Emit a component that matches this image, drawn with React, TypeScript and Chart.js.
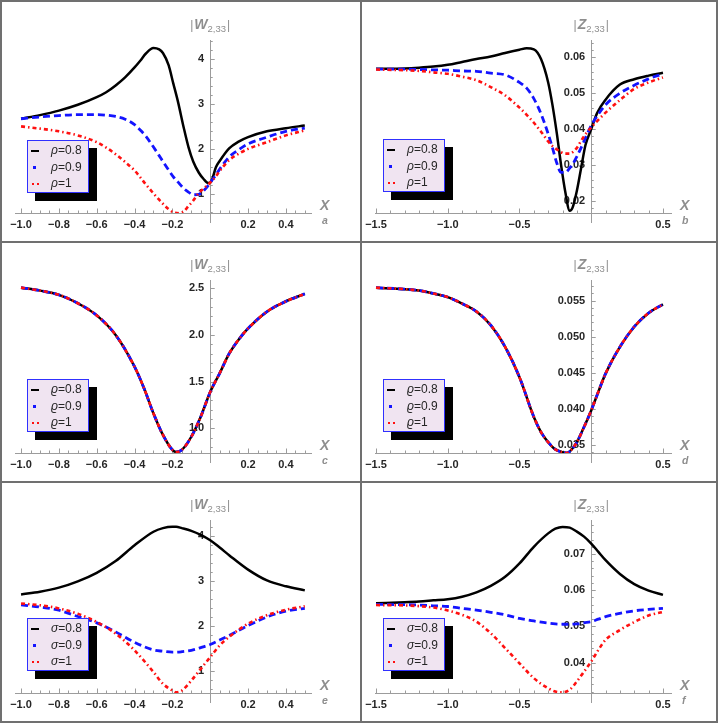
import { useEffect, useRef } from "react"
import { Chart, registerables } from "chart.js"

Chart.register(...registerables)

const FONT = "'Liberation Sans', Arial, sans-serif"

// ---- panel a: |W2,33| for rho = 0.8, 0.9, 1
const aX = [-1.0, -0.9, -0.8, -0.7, -0.6, -0.55, -0.5, -0.45, -0.4, -0.37, -0.34, -0.3, -0.27, -0.25, -0.22, -0.195, -0.17, -0.14, -0.115, -0.09, -0.06, -0.035, -0.01, 0, 0.01, 0.03, 0.05, 0.1, 0.15, 0.2, 0.3, 0.4, 0.5]
const aRho08 = [2.68, 2.76, 2.86, 2.99, 3.16, 3.27, 3.42, 3.6, 3.82, 3.97, 4.13, 4.25, 4.22, 4.14, 3.87, 3.46, 3.05, 2.48, 2.05, 1.73, 1.48, 1.34, 1.25, 1.26, 1.33, 1.6, 1.74, 2.02, 2.17, 2.27, 2.4, 2.47, 2.53]
const aRho09 = [2.68, 2.72, 2.75, 2.77, 2.77, 2.76, 2.73, 2.67, 2.55, 2.43, 2.29, 2.05, 1.86, 1.73, 1.54, 1.39, 1.27, 1.13, 1.05, 0.99, 1.0, 1.08, 1.2, 1.26, 1.32, 1.43, 1.56, 1.83, 1.99, 2.12, 2.27, 2.4, 2.47]
const aRho10 = [2.51, 2.46, 2.4, 2.31, 2.16, 2.04, 1.89, 1.72, 1.53, 1.38, 1.22, 1.02, 0.88, 0.79, 0.67, 0.6, 0.58, 0.62, 0.74, 0.86, 1.03, 1.13, 1.22, 1.26, 1.3, 1.4, 1.52, 1.76, 1.9, 2.01, 2.16, 2.31, 2.42]

// ---- panel b: |Z2,33| for rho
const bX = [-1.5, -1.3, -1.2, -1.1, -1.0, -0.9, -0.8, -0.7, -0.6, -0.5, -0.45, -0.4, -0.35, -0.3, -0.27, -0.24, -0.21, -0.18, -0.15, -0.13, -0.1, -0.07, -0.04, 0, 0.04, 0.1, 0.2, 0.3, 0.4, 0.5]
const bRho08 = [0.0568, 0.0569, 0.0571, 0.0574, 0.0579, 0.0587, 0.0595, 0.0602, 0.0612, 0.0621, 0.0625, 0.0622, 0.0595, 0.053, 0.0467, 0.0389, 0.03, 0.0224, 0.0173, 0.0182, 0.0229, 0.0293, 0.0356, 0.04, 0.0444, 0.0482, 0.0524, 0.0539, 0.0549, 0.0557]
const bRho09 = [0.0567, 0.0567, 0.0566, 0.0565, 0.0564, 0.0562, 0.0561, 0.0556, 0.0551, 0.053, 0.0514, 0.0485, 0.0443, 0.0387, 0.0348, 0.0306, 0.028, 0.028, 0.0292, 0.0302, 0.0324, 0.0349, 0.0376, 0.041, 0.0436, 0.0468, 0.05, 0.0522, 0.054, 0.0554]
const bRho10 = [0.0566, 0.0564, 0.0562, 0.0558, 0.0554, 0.0546, 0.0536, 0.0517, 0.0494, 0.046, 0.044, 0.0418, 0.0393, 0.0366, 0.0353, 0.0344, 0.0336, 0.0332, 0.0332, 0.0336, 0.0348, 0.0368, 0.0386, 0.0405, 0.0422, 0.0446, 0.0481, 0.0512, 0.053, 0.0544]

// ---- panel c: |W2,33| for varrho (the three curves coincide)
const cX = [-1.0, -0.9, -0.8, -0.7, -0.6, -0.5, -0.4, -0.35, -0.3, -0.25, -0.2, -0.18, -0.15, -0.1, -0.05, 0, 0.05, 0.1, 0.15, 0.2, 0.3, 0.4, 0.5]
const cVarrho = [2.507, 2.475, 2.43, 2.34, 2.21, 2.0, 1.66, 1.43, 1.16, 0.93, 0.77, 0.747, 0.77, 0.91, 1.125, 1.39, 1.59, 1.8, 1.95, 2.07, 2.25, 2.36, 2.44]

// ---- panel d: |Z2,33| for varrho (the three curves coincide)
const dX = [-1.5, -1.3, -1.2, -1.1, -1.0, -0.9, -0.8, -0.7, -0.6, -0.5, -0.4, -0.35, -0.3, -0.25, -0.2, -0.17, -0.15, -0.1, -0.05, 0, 0.05, 0.1, 0.2, 0.3, 0.4, 0.5]
const dVarrho = [0.0568, 0.0566, 0.0564, 0.056, 0.0555, 0.0546, 0.0535, 0.0516, 0.0486, 0.0444, 0.0389, 0.0368, 0.0354, 0.0344, 0.034, 0.0339, 0.0341, 0.0354, 0.0375, 0.0398, 0.0424, 0.0449, 0.0486, 0.0514, 0.0533, 0.0545]

// ---- panel e: |W2,33| for sigma
const eX = [-1.0, -0.9, -0.8, -0.7, -0.6, -0.5, -0.4, -0.3, -0.25, -0.2, -0.18, -0.15, -0.1, -0.05, 0, 0.05, 0.1, 0.2, 0.3, 0.4, 0.5]
const eSig08 = [2.7, 2.76, 2.85, 2.99, 3.18, 3.44, 3.79, 4.09, 4.17, 4.2, 4.2, 4.17, 4.11, 4.02, 3.9, 3.74, 3.57, 3.25, 3.01, 2.88, 2.79]
const eSig09 = [2.47, 2.42, 2.35, 2.21, 2.07, 1.87, 1.64, 1.47, 1.44, 1.42, 1.42, 1.43, 1.46, 1.52, 1.59, 1.69, 1.79, 2.01, 2.2, 2.33, 2.39]
const eSig10 = [2.5, 2.46, 2.39, 2.27, 2.09, 1.83, 1.46, 0.98, 0.72, 0.57, 0.53, 0.57, 0.79, 1.05, 1.31, 1.57, 1.76, 2.05, 2.24, 2.36, 2.44]

// ---- panel f: |Z2,33| for sigma
const fX = [-1.5, -1.3, -1.2, -1.1, -1.0, -0.9, -0.8, -0.7, -0.6, -0.5, -0.4, -0.3, -0.25, -0.2, -0.15, -0.1, -0.05, 0, 0.05, 0.1, 0.2, 0.3, 0.4, 0.5]
const fSig08 = [0.0564, 0.0567, 0.0569, 0.0572, 0.0575, 0.0582, 0.0594, 0.0612, 0.0637, 0.0674, 0.072, 0.0757, 0.077, 0.0775, 0.0773, 0.0762, 0.0748, 0.0729, 0.0706, 0.0683, 0.0645, 0.0617, 0.0599, 0.0587]
const fSig09 = [0.0561, 0.056, 0.0559, 0.0557, 0.0555, 0.055, 0.0545, 0.0539, 0.0532, 0.0522, 0.0515, 0.0509, 0.0507, 0.0506, 0.0506, 0.0507, 0.051, 0.0513, 0.052, 0.0527, 0.0536, 0.0543, 0.0547, 0.055]
const fSig10 = [0.0559, 0.0558, 0.0556, 0.0552, 0.0544, 0.0532, 0.0513, 0.0481, 0.044, 0.0398, 0.0357, 0.0329, 0.032, 0.0318, 0.0325, 0.0348, 0.0375, 0.0403, 0.0435, 0.0463, 0.049, 0.0512, 0.053, 0.054]

// tick labels
const wTicksX = [-1.0, -0.8, -0.6, -0.4, -0.2, 0.2, 0.4]
const zTicksX = [-1.5, -1.0, -0.5, 0.5]
const aTicksY = [1, 2, 3, 4]
const bTicksY = [0.02, 0.03, 0.04, 0.05, 0.06]
const cTicksY = [1.0, 1.5, 2.0, 2.5]
const dTicksY = [0.035, 0.04, 0.045, 0.05, 0.055]
const eTicksY = [1, 2, 3, 4]
const fTicksY = [0.04, 0.05, 0.06, 0.07]

const legendValues = ["0.8", "0.9", "1"]
const lineColors = ["#000000", "#1414ff", "#ff1010"]

type PanelSpec = {
  tag: string
  left: number
  top: number
  fn: string
  sym: string
  xs: number[]
  series: number[][]
  xRange: [number, number]
  yRange: [number, number]
  xTicks: number[]
  yTicks: number[]
  yDigits: number
  xMinor: number
  yMinor: number
  legendLeft: number
  legendTop: number
}

const panels: PanelSpec[] = [
  { tag: "a", left: 0, top: 0, fn: "W", sym: "ρ", xs: aX, series: [aRho08, aRho09, aRho10], xRange: [-1.032, 0.538], yRange: [0.585, 4.43], xTicks: wTicksX, yTicks: aTicksY, yDigits: 0, xMinor: 0.05, yMinor: 0.2, legendLeft: 27, legendTop: 140 },
  { tag: "b", left: 360, top: 0, fn: "Z", sym: "ρ", xs: bX, series: [bRho08, bRho09, bRho10], xRange: [-1.507, 0.563], yRange: [0.0167, 0.0648], xTicks: zTicksX, yTicks: bTicksY, yDigits: 2, xMinor: 0.1, yMinor: 0.002, legendLeft: 23, legendTop: 139 },
  { tag: "c", left: 0, top: 240, fn: "W", sym: "ϱ", xs: cX, series: [cVarrho, cVarrho, cVarrho], xRange: [-1.032, 0.538], yRange: [0.736, 2.589], xTicks: wTicksX, yTicks: cTicksY, yDigits: 1, xMinor: 0.05, yMinor: 0.1, legendLeft: 27, legendTop: 139 },
  { tag: "d", left: 360, top: 240, fn: "Z", sym: "ϱ", xs: dX, series: [dVarrho, dVarrho, dVarrho], xRange: [-1.507, 0.563], yRange: [0.0339, 0.05787], xTicks: zTicksX, yTicks: dTicksY, yDigits: 3, xMinor: 0.1, yMinor: 0.001, legendLeft: 23, legendTop: 139 },
  { tag: "e", left: 0, top: 480, fn: "W", sym: "σ", xs: eX, series: [eSig08, eSig09, eSig10], xRange: [-1.032, 0.538], yRange: [0.515, 4.35], xTicks: wTicksX, yTicks: eTicksY, yDigits: 0, xMinor: 0.05, yMinor: 0.2, legendLeft: 27, legendTop: 138 },
  { tag: "f", left: 360, top: 480, fn: "Z", sym: "σ", xs: fX, series: [fSig08, fSig09, fSig10], xRange: [-1.507, 0.563], yRange: [0.0316, 0.0794], xTicks: zTicksX, yTicks: fTicksY, yDigits: 2, xMinor: 0.1, yMinor: 0.002, legendLeft: 23, legendTop: 138 },
]

const fmt = (v: number, digits: number) => {
  const s = Math.abs(v).toFixed(digits)
  return v < 0 ? "\u2212" + s : s
}

// Mathematica-style axes: crossing lines, inward major/minor ticks, axis titles
const mathAxes = {
  id: "mathAxes",
  beforeDatasetsDraw(chart: any, _args: any, opts: any) {
    const { ctx, chartArea } = chart
    const xs = chart.scales.x
    const ys = chart.scales.y
    const x0 = xs.getPixelForValue(0)
    const yb = chartArea.bottom
    ctx.save()
    ctx.strokeStyle = "#9c9c9c"
    ctx.lineWidth = 1
    ctx.beginPath()
    ctx.moveTo(chartArea.left, yb + 0.5)
    ctx.lineTo(chartArea.right, yb + 0.5)
    ctx.moveTo(Math.round(x0) + 0.5, chartArea.top)
    ctx.lineTo(Math.round(x0) + 0.5, yb + 10)
    // x ticks
    const [xMin, xMax] = [xs.min, xs.max]
    for (let k = Math.ceil(xMin / opts.xMinor - 1e-6); k * opts.xMinor <= xMax + 1e-9; k++) {
      const v = k * opts.xMinor
      const major = opts.xTicks.some((t: number) => Math.abs(t - v) < 1e-6)
      const px = Math.round(xs.getPixelForValue(v)) + 0.5
      ctx.moveTo(px, yb)
      ctx.lineTo(px, yb - (major ? 4.5 : 2.5))
    }
    // y ticks
    const [yMin, yMax] = [ys.min, ys.max]
    for (let k = Math.ceil(yMin / opts.yMinor - 1e-6); k * opts.yMinor <= yMax + 1e-12; k++) {
      const v = k * opts.yMinor
      const major = opts.yTicks.some((t: number) => Math.abs(t - v) < opts.yMinor * 1e-3)
      const py = Math.round(ys.getPixelForValue(v)) + 0.5
      ctx.moveTo(x0, py)
      ctx.lineTo(x0 + (major ? 4.5 : 2.5), py)
    }
    ctx.stroke()
    ctx.restore()
  },
  afterDraw(chart: any, _args: any, opts: any) {
    const { ctx, chartArea } = chart
    const x0 = chart.scales.x.getPixelForValue(0)
    ctx.save()
    ctx.fillStyle = "#8e8e8e"
    ctx.textBaseline = "alphabetic"
    const parts = [
      { t: "|", f: `12px ${FONT}`, dy: 0 },
      { t: opts.fn, f: `bold italic 14px ${FONT}`, dy: 0 },
      { t: "2,33", f: `9.5px ${FONT}`, dy: 3 },
      { t: "|", f: `12px ${FONT}`, dy: 0 },
    ]
    let total = 0
    const widths = parts.map((p) => {
      ctx.font = p.f
      const w = ctx.measureText(p.t).width + (p.t === "|" ? 1 : 0)
      total += w
      return w
    })
    let cx = x0 - total / 2
    parts.forEach((p, i) => {
      ctx.font = p.f
      ctx.fillText(p.t, cx + (p.t === "|" && i === 3 ? 1 : 0), 28.5 + p.dy)
      cx += widths[i]
    })
    ctx.font = `bold italic 14px ${FONT}`
    ctx.fillText("X", chartArea.right + 8, chartArea.bottom - 3)
    ctx.font = `italic bold 10.5px ${FONT}`
    ctx.fillText(opts.tag, chartArea.right + 10, chartArea.bottom + 10.5)
    ctx.restore()
  },
}

function Legend({ p }: { p: PanelSpec }) {
  const sample = (i: number) => {
    if (i === 0) return <span style={{ position: "absolute", left: 3, top: -1, width: 8, height: 2.5, background: lineColors[0] }} />
    if (i === 1) return <span style={{ position: "absolute", left: 4.5, top: -1, width: 3.5, height: 2.5, background: lineColors[1] }} />
    return (
      <>
        <span style={{ position: "absolute", left: 4, top: -1, width: 2, height: 2, background: lineColors[2] }} />
        <span style={{ position: "absolute", left: 8.5, top: -1, width: 2, height: 2, background: lineColors[2] }} />
      </>
    )
  }
  return (
    <div
      style={{
        position: "absolute",
        left: p.legendLeft,
        top: p.legendTop,
        width: 62,
        height: 53,
        boxSizing: "border-box",
        background: "#f0e4f1",
        border: "1px solid #3030ff",
        boxShadow: "8px 8px 0 0 #000",
        fontFamily: FONT,
        fontSize: 12,
        color: "#262626",
      }}
    >
      {legendValues.map((v, i) => (
        <div key={v} style={{ position: "absolute", left: 0, top: 9.5 + i * 16.6, width: "100%" }}>
          {sample(i)}
          <span style={{ position: "absolute", left: 23, top: -7.5, whiteSpace: "nowrap", lineHeight: "14px" }}>
            <i>{p.sym}</i>={v}
          </span>
        </div>
      ))}
    </div>
  )
}

function Panel({ p }: { p: PanelSpec }) {
  const canvasRef = useRef<HTMLCanvasElement>(null)
  const chartRef = useRef<Chart | null>(null)

  useEffect(() => {
    if (!canvasRef.current) return
    if (chartRef.current) chartRef.current.destroy()

    const [xMin, xMax] = p.xRange
    const [yMin, yMax] = p.yRange
    // y tick labels sit a few pixels left of the y axis at x = 0
    const yLabelX = -6 * (xMax - xMin) / 297

    const styles = [
      { borderWidth: 2.5, borderDash: [] as number[], order: 3 },
      { borderWidth: 2.8, borderDash: [7, 4], order: 2 },
      { borderWidth: 2.6, borderDash: [4, 3, 1.5, 3], order: 1 },
    ]

    chartRef.current = new Chart(canvasRef.current, {
      type: "line",
      data: {
        datasets: p.series.map((ys, i) => ({
          label: `${p.sym}=${legendValues[i]}`,
          data: p.xs.map((x, j) => ({ x, y: ys[j] })),
          borderColor: lineColors[i],
          borderWidth: styles[i].borderWidth,
          borderDash: styles[i].borderDash,
          order: styles[i].order,
          pointRadius: 0,
          fill: false,
          cubicInterpolationMode: "monotone" as const,
        })),
      },
      options: {
        animation: false,
        responsive: false,
        events: [],
        layout: { padding: { left: 15, right: 50, top: 40, bottom: 29 } },
        plugins: {
          legend: { display: false },
          tooltip: { enabled: false },
          mathAxes: { xMinor: p.xMinor, yMinor: p.yMinor, xTicks: p.xTicks, yTicks: p.yTicks, fn: p.fn, tag: p.tag },
        } as any,
        scales: {
          x: {
            type: "linear",
            min: xMin,
            max: xMax,
            position: { y: yMin } as any,
            grid: { display: false, drawTicks: false },
            border: { display: false },
            afterBuildTicks: (axis: any) => {
              axis.ticks = p.xTicks.map((value) => ({ value }))
            },
            ticks: {
              autoSkip: false,
              maxRotation: 0,
              padding: 5,
              color: "#262626",
              font: { family: FONT, size: 11, weight: "bold" },
              callback: (v: any) => fmt(Number(v), 1),
            },
          },
          y: {
            type: "linear",
            min: yMin,
            max: yMax,
            position: { x: yLabelX } as any,
            grid: { display: false, drawTicks: false },
            border: { display: false },
            afterBuildTicks: (axis: any) => {
              axis.ticks = p.yTicks.map((value) => ({ value }))
            },
            ticks: {
              autoSkip: false,
              padding: 0,
              color: "#262626",
              font: { family: FONT, size: 11, weight: "bold" },
              callback: (v: any) => fmt(Number(v), p.yDigits),
            },
          },
        },
      },
      plugins: [mathAxes as any],
    })

    return () => {
      if (chartRef.current) {
        chartRef.current.destroy()
        chartRef.current = null
      }
    }
  }, [p])

  return (
    <div style={{ position: "absolute", left: p.left, top: p.top, width: 362, height: 242 }}>
      <canvas ref={canvasRef} width={362} height={242} style={{ width: 362, height: 242 }} />
      <Legend p={p} />
    </div>
  )
}

export default function App() {
  const line = "#707070"
  return (
    <div style={{ position: "fixed", left: 0, top: 0, width: 722, height: 725, background: "#fff", overflow: "hidden" }}>
      {panels.map((p) => (
        <Panel key={p.tag} p={p} />
      ))}
      <div style={{ position: "absolute", left: 0, top: 0, width: 718, height: 723, boxSizing: "border-box", border: `2px solid ${line}` }} />
      <div style={{ position: "absolute", left: 360, top: 0, width: 2, height: 723, background: line }} />
      <div style={{ position: "absolute", left: 0, top: 241, width: 718, height: 2, background: line }} />
      <div style={{ position: "absolute", left: 0, top: 481, width: 718, height: 2, background: line }} />
    </div>
  )
}
